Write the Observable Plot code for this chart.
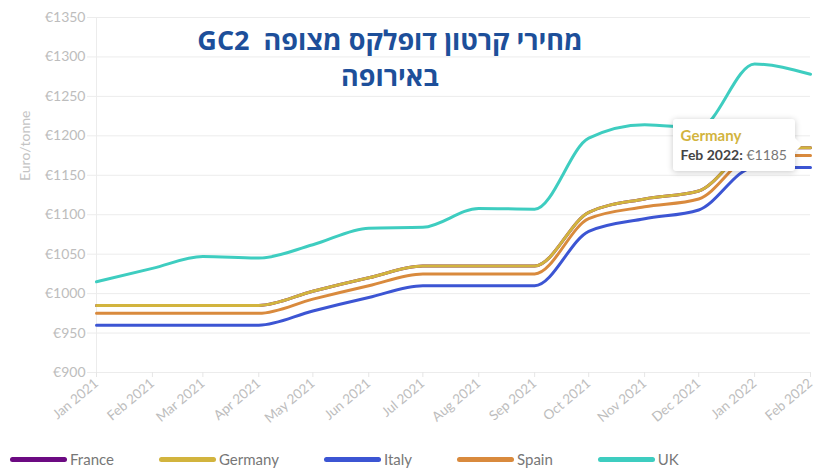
<!DOCTYPE html>
<html>
<head>
<meta charset="utf-8">
<script src="https://cdn.jsdelivr.net/npm/d3@7"></script>
<script src="https://cdn.jsdelivr.net/npm/@observablehq/plot@0.6"></script>
<style>
  body { margin: 0; background: #fff; font-family: Lato, "Open Sans", sans-serif; }
  #wrap { position: relative; width: 819px; height: 469px; overflow: hidden; }
  #title { position: absolute; left: 150px; width: 480px; top: 22px; text-align: center; direction: rtl;
           font-family: "Open Sans", "Noto Sans", sans-serif; font-weight: bold; font-size: 27px; line-height: 36px; color: #1d4f9a; }
  #legend { display: flex; gap: 45px; padding-left: 10px; height: 24px; margin-top: 2px; align-items: center; font-size: 15px; color: #777; }
  .item { display: flex; align-items: center; gap: 3px; }
  .sw { width: 57px; height: 5px; border-radius: 3px; }
  #tip { position: absolute; background: #fff; box-shadow: 0 1px 6px rgba(0,0,0,0.22); border-radius: 3px;
         padding: 6px 8px 6px 8px; font-size: 14px; line-height: 20px; white-space: nowrap; }
  #tip .n { font-weight: bold; font-size: 15px; }
  #tip .d { font-weight: bold; color: #444; }
  #tip .v { color: #777; }
  #tip:after { content: ""; position: absolute; right: -7px; top: 50%; margin-top: -7px; border-left: 7px solid #fff; border-top: 7px solid transparent; border-bottom: 7px solid transparent; }
</style>
</head>
<body>
<div id="wrap">
  <div id="chart"></div>
  <div id="legend"></div>
  <div id="title">מחירי קרטון דופלקס מצופה&nbsp; GC2<br>באירופה</div>
  <div id="tip"></div>
</div>
<script>
const months = ["2021-01","2021-02","2021-03","2021-04","2021-05","2021-06","2021-07","2021-08","2021-09","2021-10","2021-11","2021-12","2022-01","2022-02"];
const countries = ["France","Germany","Italy","Spain","UK"];
const colors = ["#6c0a82","#d2b43e","#3c55d3","#d98a3d","#3ecdc0"];
const France  = [985,985,985,985,1003,1020,1035,1035,1035,1103,1120,1130,1185,1185];
const Germany = [985,985,985,985,1003,1020,1035,1035,1035,1103,1120,1130,1185,1185];
const Italy   = [960,960,960,960,978,995,1010,1010,1010,1079,1095,1106,1160,1160];
const Spain   = [975,975,975,975,993,1010,1025,1025,1025,1095,1110,1120,1175,1175];
const UK      = [1015,1032,1047,1045,1062,1083,1084,1108,1107,1197,1214,1210,1291,1278];
const yTicks = [900,950,1000,1050,1100,1150,1200,1250,1300,1350];
const tipSeries = "Germany", tipMonth = "2022-02";

const series = {France, Germany, Italy, Spain, UK};
const parse = d3.utcParse("%Y-%m");
const dates = months.map(parse);
const data = countries.flatMap(c => series[c].map((v, i) => ({country: c, date: dates[i], value: v})));
const fmt = d3.utcFormat("%b %Y");

const chart = Plot.plot({
  width: 819, height: 445,
  marginLeft: 96, marginRight: 9, marginTop: 17, marginBottom: 73,
  style: {fontFamily: "Lato, 'Open Sans', sans-serif", fontSize: "13px", color: "#bdbdbd", background: "#fff"},
  x: {type: "utc", domain: [dates[0], dates[dates.length - 1]]},
  y: {domain: [900, 1350]},
  color: {domain: countries, range: colors},
  marks: [
    Plot.ruleY(yTicks, {x1: dates[0], x2: dates[dates.length - 1], stroke: "#ececec", strokeWidth: 1, insetLeft: -9}),
    Plot.ruleX([dates[0]], {stroke: "#ececec"}),
    Plot.axisY({ticks: yTicks, tickFormat: d => "€" + d, tickSize: 0, tickPadding: 11, label: null, fontSize: 14, fill: "#bdbdbd"}),
    Plot.axisX({ticks: dates, tickFormat: fmt, tickRotate: -40, tickSize: 5, stroke: "#e6e6e6", tickPadding: 4, label: null, fill: "#bdbdbd", fontSize: 13.5}),
    Plot.text(["Euro/tonne"], {frameAnchor: "left", rotate: -90, dx: -71, dy: -14, fill: "#c4c4c4", fontSize: 14}),
    Plot.line(data, {x: "date", y: "value", z: "country", stroke: "country", strokeWidth: 3, curve: "monotone-x"})
  ]
});
document.getElementById("chart").append(chart);

const legend = document.getElementById("legend");
countries.forEach((c, i) => {
  const it = document.createElement("div"); it.className = "item";
  it.innerHTML = `<span class="sw" style="background:${colors[i]}"></span><span>${c}</span>`;
  legend.append(it);
});

const ti = months.indexOf(tipMonth);
const tv = series[tipSeries][ti];
const tip = document.getElementById("tip");
tip.innerHTML = `<div class="n" style="color:${colors[countries.indexOf(tipSeries)]}">${tipSeries}</div><div><span class="d">${fmt(dates[ti])}:</span> <span class="v">€${tv}</span></div>`;
const px = chart.scale("x").apply(dates[ti]);
const py = chart.scale("y").apply(tv);
const r = tip.getBoundingClientRect();
tip.style.left = (px - 15 - r.width) + "px";
tip.style.top = (py - 2 - r.height / 2) + "px";
</script>
</body>
</html>
